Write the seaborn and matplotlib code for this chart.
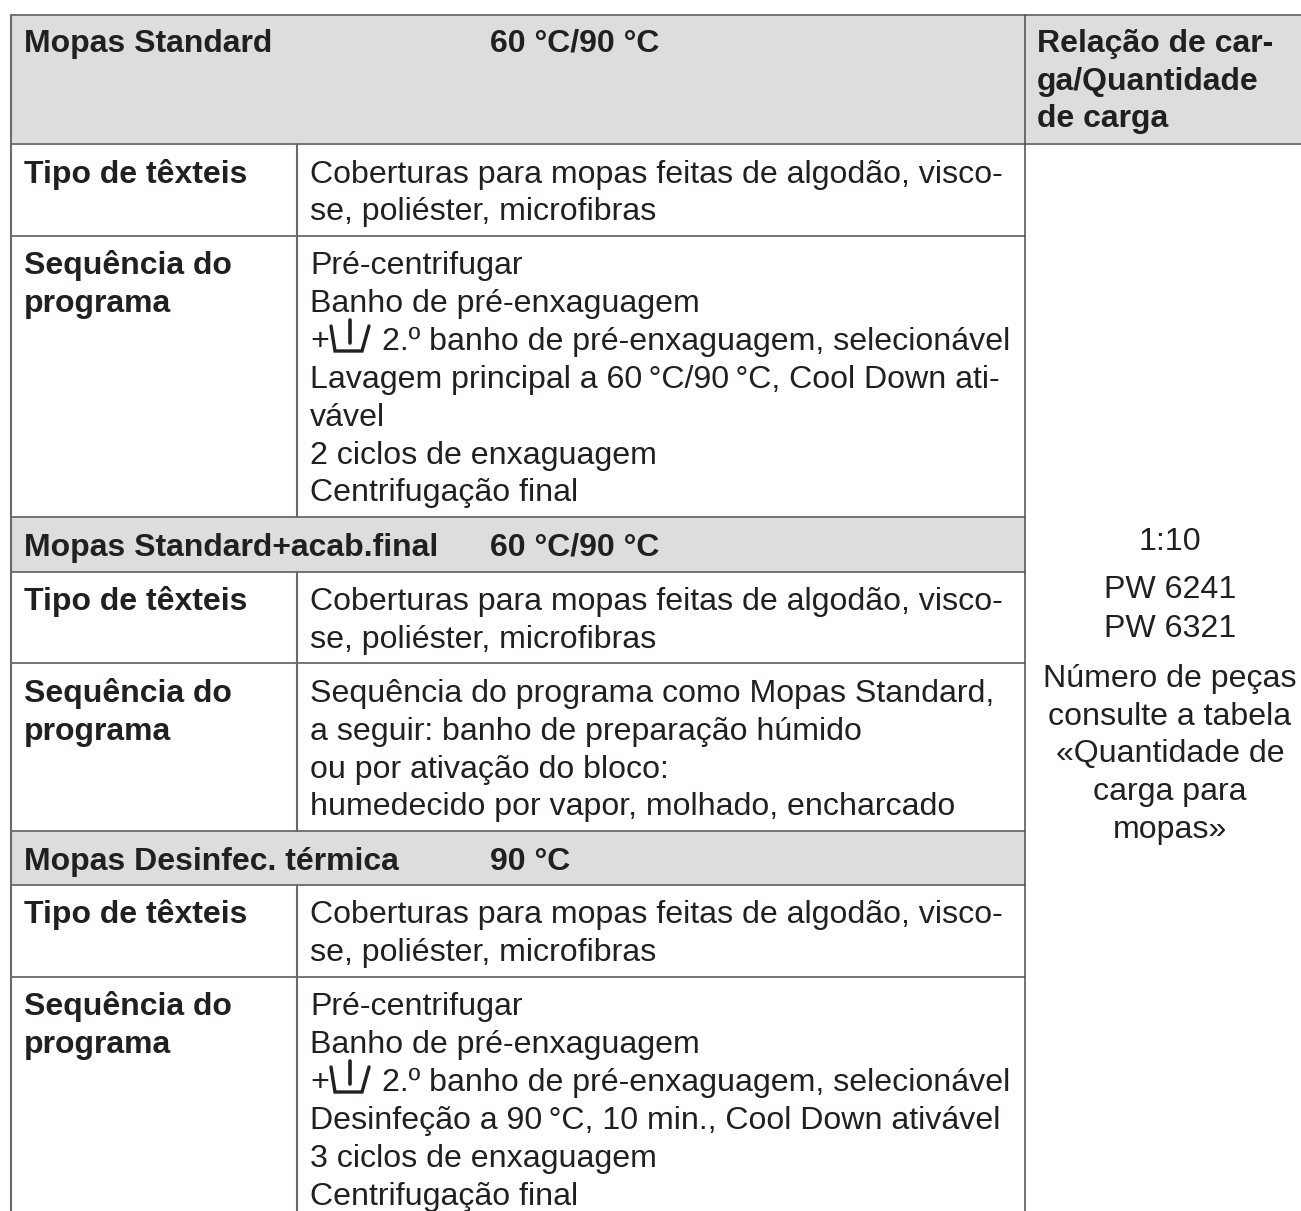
import matplotlib
matplotlib.use('Agg')
import matplotlib.pyplot as plt
import seaborn as sns

sns.set_theme(style='white')
plt.rcParams['font.family'] = ['Liberation Sans', 'DejaVu Sans']

W, H = 1301, 1211
TXT = '#231f20'
LINE = '#6a6a6a'
BAND = '#dcddde'
FS = 23.1
FS_B = 23.0

# textos da tabela
coberturas = ['Coberturas para mopas feitas de algodão, visco-',
              'se, poliéster, microfibras']
seq_standard = ['Pré-centrifugar',
                'Banho de pré-enxaguagem',
                '+',
                'Lavagem principal a 60\u2009°C/90\u2009°C, Cool Down ati-',
                'vável',
                '2 ciclos de enxaguagem',
                'Centrifugação final']
seq_final = ['Sequência do programa como Mopas Standard,',
             'a seguir: banho de preparação húmido',
             'ou por ativação do bloco:',
             'humedecido por vapor, molhado, encharcado']
seq_termica = ['Pré-centrifugar',
               'Banho de pré-enxaguagem',
               '+',
               'Desinfeção a 90\u2009°C, 10 min., Cool Down ativável',
               '3 ciclos de enxaguagem',
               'Centrifugação final']
banho2 = '2.º banho de pré-enxaguagem, selecionável'
titulo_carga = ['Relação de car-', 'ga/Quantidade', 'de carga']
carga = ['1:10', 'PW 6241', 'PW 6321', 'Número de peças', 'consulte a tabela',
         '«Quantidade de', 'carga para', 'mopas»']

fig = plt.figure(figsize=(W / 100, H / 100), dpi=100)
ax = fig.add_axes([0, 0, 1, 1])
ax.set_xlim(0, W)
ax.set_ylim(H, 0)
ax.axis('off')

# faixas cinzentas
ax.fill_between([11, W], 15, 144, color=BAND, lw=0)
ax.fill_between([11, 1025], 517, 572, color=BAND, lw=0)
ax.fill_between([11, 1025], 831, 885, color=BAND, lw=0)

# linhas
for y, x1 in [(15, W), (144, W), (236, 1025), (517, 1025), (572, 1025),
              (663, 1025), (831, 1025), (885, 1025), (977, 1025)]:
    ax.plot([11, x1], [y, y], color=LINE, lw=1.3, solid_capstyle='butt')
ax.plot([11, 11], [15, H], color=LINE, lw=1.5)
for y0, y1 in [(144, 517), (572, 831), (885, H)]:
    ax.plot([297, 297], [y0, y1], color=LINE, lw=1.5)
ax.plot([1025, 1025], [15, H], color='#4a4a4a', lw=1.1)


def bold(x, y, s):
    ax.text(x, y, s, fontsize=FS_B, fontweight='bold', color=TXT, va='baseline', ha='left')


def normal(x, ys, linhas, ha='left'):
    for y, s in zip(ys, linhas):
        ax.text(x, y, s, fontsize=FS, color=TXT, va='baseline', ha=ha)


def tina(x0, y0):
    # simbolo da tina
    ax.plot([x0, x0 + 4, x0 + 31, x0 + 38], [y0, y0 + 25, y0 + 25, y0],
            color=TXT, lw=2.4, solid_joinstyle='miter')
    ax.plot([x0 + 19, x0 + 19], [y0 - 6, y0 + 17], color=TXT, lw=2.6)


# cabecalho
bold(24, 52, 'Mopas Standard')
bold(490, 52, '60 °C/90 °C')
for y, s in zip([52, 90, 127], titulo_carga):
    bold(1037, y, s)

# bloco 1
bold(24, 183, 'Tipo de têxteis')
normal(310, [183, 220], coberturas)
bold(24, 274, 'Sequência do')
bold(24, 312, 'programa')
normal(310, [274, 312, 350, 388, 426, 464, 501], seq_standard)
normal(382, [350], [banho2])
tina(331, 326)

# bloco 2
bold(24, 556, 'Mopas Standard+acab.final')
bold(490, 556, '60 °C/90 °C')
bold(24, 610, 'Tipo de têxteis')
normal(310, [610, 648], coberturas)
bold(24, 702, 'Sequência do')
bold(24, 740, 'programa')
normal(310, [702, 740, 778, 815], seq_final)

# bloco 3
bold(24, 870, 'Mopas Desinfec. térmica')
bold(490, 870, '90 °C')
bold(24, 923, 'Tipo de têxteis')
normal(310, [923, 961], coberturas)
bold(24, 1015, 'Sequência do')
bold(24, 1053, 'programa')
normal(310, [1015, 1053, 1091, 1129, 1167, 1205], seq_termica)
normal(382, [1091], [banho2])
tina(331, 1067)

# coluna da direita
normal(1170, [550, 598, 637, 687, 725, 762, 800, 838], carga, ha='center')

fig.savefig('out.png', dpi=100, facecolor='white')
